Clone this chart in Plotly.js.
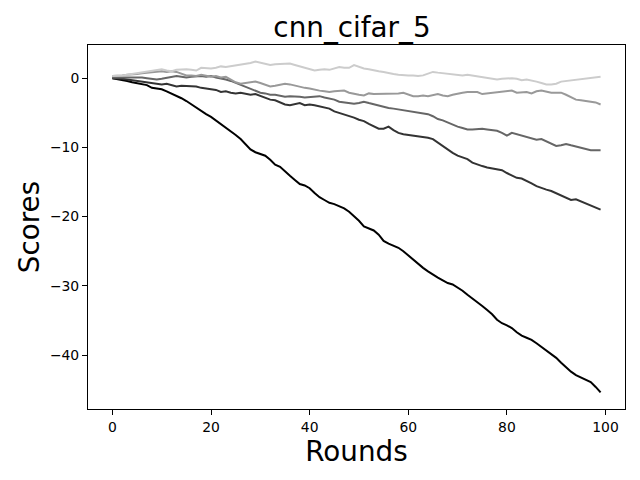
<!DOCTYPE html>
<html>
<head>
<meta charset="utf-8">
<script src="https://cdn.plot.ly/plotly-3.0.1.min.js"></script>
<style>html,body{margin:0;padding:0;background:#fff;}#chart{width:640px;height:480px;}</style>
</head>
<body>
<div id="chart"></div>
<script>
const rounds = Array.from({length: 100}, (_, i) => i);

const seriesBlack = [0,-0.1,-0.2,-0.4,-0.6,-0.75,-0.85,-1.0,-1.4,-1.5,
  -1.6,-1.9,-2.2,-2.5,-2.9,-3.3,-3.8,-4.3,-4.7,-5.2,
  -5.6,-6.1,-6.7,-7.1,-7.6,-8.2,-8.8,-9.5,-10.3,-10.7,
  -11.0,-11.2,-11.8,-12.5,-12.8,-13.5,-14.1,-14.7,-15.3,-15.5,
  -15.9,-16.6,-17.2,-17.6,-18.0,-18.2,-18.5,-18.8,-19.3,-19.9,
  -20.6,-21.4,-21.7,-22.0,-22.6,-23.5,-23.9,-24.2,-24.5,-25.0,
  -25.6,-26.3,-26.8,-27.4,-27.9,-28.4,-28.8,-29.2,-29.6,-29.8,
  -30.2,-30.7,-31.3,-31.8,-32.3,-32.9,-33.5,-34.1,-34.9,-35.4,
  -35.7,-36.1,-36.7,-37.2,-37.5,-37.8,-38.3,-38.8,-39.3,-39.8,
  -40.4,-41.1,-41.8,-42.4,-42.9,-43.2,-43.6,-43.9,-44.6,-45.4];

const seriesDark = [0,0.0,-0.1,-0.2,-0.3,-0.3,-0.4,-0.5,-0.6,-0.8,
  -0.9,-0.8,-1.0,-1.2,-1.1,-1.1,-1.2,-1.2,-1.4,-1.5,
  -1.6,-1.7,-2.0,-1.9,-2.1,-2.2,-2.1,-2.3,-2.4,-2.3,
  -2.6,-2.8,-3.1,-3.2,-3.5,-3.8,-3.9,-3.8,-3.6,-3.9,
  -3.8,-3.9,-4.1,-4.2,-4.4,-4.8,-5.0,-5.2,-5.4,-5.7,
  -6.0,-6.2,-6.6,-6.9,-7.3,-7.3,-7.0,-7.5,-7.9,-8.1,
  -8.2,-8.2,-8.3,-8.4,-8.6,-8.8,-9.3,-9.9,-10.4,-10.8,
  -11.2,-11.5,-11.7,-12.2,-12.5,-12.7,-12.9,-13.0,-13.1,-13.3,
  -13.7,-14.1,-14.4,-14.5,-14.8,-15.2,-15.6,-15.9,-16.1,-16.3,
  -16.6,-16.9,-17.3,-17.6,-17.5,-17.8,-18.1,-18.4,-18.7,-19.0];

const seriesMid = [0.1,0.1,0.1,0.2,0.2,0.1,0.1,0.0,-0.1,-0.2,
  -0.1,0.0,0.1,0.3,0.2,0.1,0.2,0.3,0.3,0.2,
  0.3,0.1,0.0,-0.2,-0.4,-0.7,-0.9,-1.2,-1.5,-1.8,
  -2.1,-2.2,-2.4,-2.4,-2.6,-2.7,-2.6,-2.6,-2.7,-2.8,
  -2.7,-2.6,-2.6,-2.8,-2.9,-3.1,-3.4,-3.5,-3.6,-3.7,
  -3.6,-3.4,-3.6,-3.8,-4.0,-4.1,-4.3,-4.4,-4.5,-4.6,
  -4.8,-4.9,-4.9,-5.0,-5.2,-5.5,-5.9,-6.1,-6.4,-6.8,
  -7.0,-7.2,-7.4,-7.4,-7.3,-7.3,-7.4,-7.5,-7.6,-7.9,
  -8.3,-7.9,-8.1,-8.3,-8.4,-8.6,-8.9,-8.8,-9.1,-9.5,
  -9.8,-9.7,-9.5,-9.7,-9.9,-10.1,-10.3,-10.4,-10.4,-10.4];

const seriesGray = [0.3,0.3,0.4,0.5,0.5,0.6,0.7,0.8,0.9,1.0,
  1.0,0.9,1.0,0.9,0.6,0.4,0.4,0.3,0.5,0.4,
  0.2,0.3,0.1,0.2,-0.2,-0.6,-0.8,-0.7,-0.6,-0.5,
  -0.7,-1.0,-1.2,-1.1,-0.9,-0.8,-0.9,-1.1,-1.3,-1.4,
  -1.5,-1.7,-1.8,-1.9,-2.0,-1.9,-1.8,-1.8,-2.1,-2.3,
  -2.4,-2.5,-2.2,-2.3,-2.3,-2.3,-2.2,-2.3,-2.2,-2.1,
  -2.3,-2.6,-2.6,-2.5,-2.6,-2.4,-2.3,-2.5,-2.6,-2.4,
  -2.2,-2.1,-2.0,-2.0,-2.0,-2.3,-2.2,-2.1,-2.0,-1.9,
  -1.8,-1.8,-2.1,-2.1,-2.0,-2.2,-1.9,-1.8,-2.0,-2.1,
  -2.1,-2.1,-2.4,-2.8,-3.1,-3.2,-3.3,-3.4,-3.5,-3.8];

const seriesLight = [0.3,0.3,0.4,0.5,0.6,0.7,0.8,1.0,1.1,1.2,
  1.3,1.1,1.0,1.2,1.3,1.3,1.2,1.1,1.5,1.4,
  1.4,1.5,1.7,1.6,1.7,1.9,2.0,2.1,2.2,2.4,
  2.2,2.1,1.9,2.0,2.0,2.1,2.1,1.9,1.7,1.5,
  1.2,1.1,1.2,1.3,1.2,1.4,1.6,1.5,1.5,1.9,
  1.6,1.4,1.3,1.1,1.0,0.9,0.7,0.6,0.5,0.4,
  0.4,0.4,0.3,0.4,0.6,0.9,0.8,0.7,0.6,0.6,
  0.5,0.4,0.5,0.4,0.2,0.1,0.0,-0.1,-0.2,-0.1,
  0.0,0.0,-0.1,-0.3,-0.2,-0.3,-0.5,-0.7,-0.9,-0.9,
  -0.8,-0.5,-0.4,-0.3,-0.2,-0.2,-0.1,0.0,0.1,0.2];

const xTicks = [0, 20, 40, 60, 80, 100];
const yTicks = [-40, -30, -20, -10, 0];

const seriesList = [
  {y: seriesBlack, color: '#000000'},
  {y: seriesDark, color: '#333333'},
  {y: seriesMid, color: '#666666'},
  {y: seriesGray, color: '#999999'},
  {y: seriesLight, color: '#cccccc'}
];

const traces = seriesList.map(s => ({
  x: rounds, y: s.y, type: 'scatter', mode: 'lines',
  line: {color: s.color, width: 2}, showlegend: false, hoverinfo: 'skip'
}));

const font = 'DejaVu Sans, sans-serif';
const layout = {
  width: 640, height: 480,
  paper_bgcolor: '#ffffff', plot_bgcolor: '#ffffff',
  margin: {l: 88, r: 15, t: 45, b: 71, pad: 0},
  font: {family: font, color: '#000000', size: 14},
  title: {text: 'cnn_cifar_5', font: {family: font, size: 27.8, color: '#000'},
          x: 0.55, xanchor: 'center', y: 1 - 27/480, yref: 'container', yanchor: 'middle'},
  xaxis: {
    range: [-4.95, 103.95], tickvals: xTicks, ticktext: xTicks.map(String),
    ticks: 'outside', ticklen: 5, tickwidth: 1, tickcolor: '#000',
    showline: true, mirror: true, linecolor: '#000', linewidth: 1,
    showgrid: false, zeroline: false,
    tickfont: {family: font, size: 13.9, color: '#000'},
    title: {text: 'Rounds', font: {family: font, size: 27.8, color: '#000'}, standoff: 6}
  },
  yaxis: {
    range: [-47.79, 4.79], tickvals: yTicks,
    ticks: 'outside', ticklen: 5, tickwidth: 1, tickcolor: '#000',
    showline: true, mirror: true, linecolor: '#000', linewidth: 1,
    showgrid: false, zeroline: false,
    tickfont: {family: font, size: 13.9, color: '#000'},
    title: {text: 'Scores', font: {family: font, size: 27.8, color: '#000'}, standoff: 2}
  }
};

Plotly.newPlot('chart', traces, layout, {staticPlot: true, displayModeBar: false});
</script>
</body>
</html>
